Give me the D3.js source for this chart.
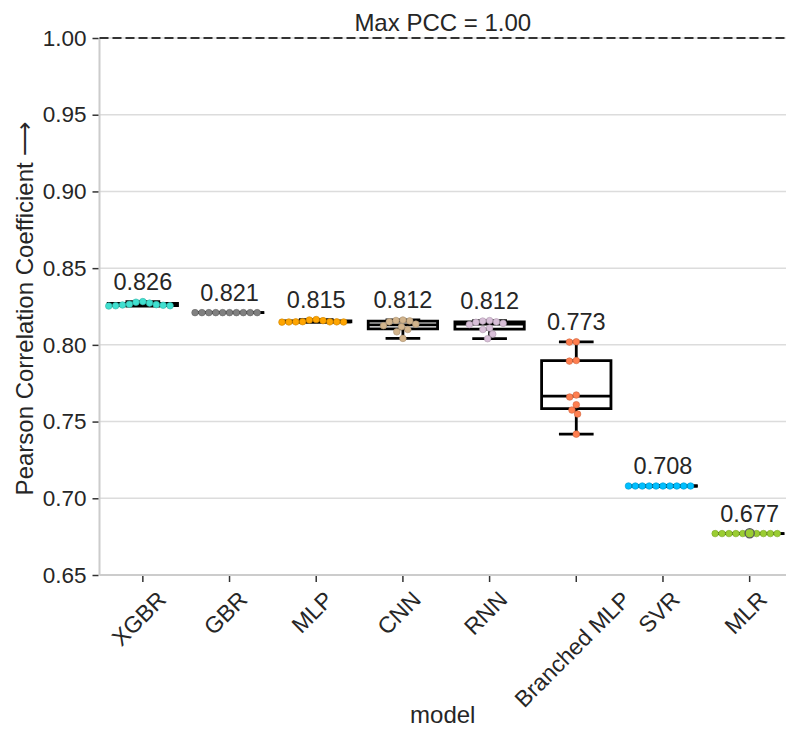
<!DOCTYPE html>
<html>
<head>
<meta charset="utf-8">
<script src="https://cdn.jsdelivr.net/npm/d3@7"></script>
<style>
  body { margin: 0; background: #fff; }
  text { font-family: "Liberation Sans", Arial, sans-serif; fill: #262626; }
</style>
</head>
<body>
<div id="container"></div>
<script>
const models = ["XGBR", "GBR", "MLP", "CNN", "RNN", "Branched MLP", "SVR", "MLR"];
const colors = ["#40e0d0", "#808080", "#ffa500", "#d2b48c", "#d8bfd8", "#ff7f50", "#00bfff", "#9acd32"];

// PCC per run (10 runs per model)
const xgbrValues     = [0.8282, 0.8278, 0.8272, 0.8265, 0.8258, 0.8255, 0.8253, 0.8255, 0.8260, 0.8262];
const gbrValues      = [0.8210, 0.8210, 0.8210, 0.8210, 0.8210, 0.8210, 0.8210, 0.8210, 0.8210, 0.8210];
const mlpValues      = [0.8165, 0.8162, 0.8150, 0.8149, 0.8148, 0.8150, 0.8151, 0.8149, 0.8150, 0.8158];
const cnnValues      = [0.8162, 0.8159, 0.8156, 0.8150, 0.8135, 0.8125, 0.8118, 0.8100, 0.8085, 0.8042];
const rnnValues      = [0.8158, 0.8155, 0.8150, 0.8147, 0.8140, 0.8132, 0.8110, 0.8100, 0.8070, 0.8040];
const branchedValues = [0.8020, 0.8018, 0.7898, 0.7894, 0.7673, 0.7660, 0.7610, 0.7575, 0.7549, 0.7418];
const svrValues      = [0.7080, 0.7080, 0.7080, 0.7080, 0.7080, 0.7080, 0.7080, 0.7080, 0.7080, 0.7080];
const mlrValues      = [0.6770, 0.6770, 0.6770, 0.6770, 0.6772, 0.6770, 0.6770, 0.6770, 0.6770, 0.6770];

const yTicks = [0.65, 0.70, 0.75, 0.80, 0.85, 0.90, 0.95, 1.00];
const maxPcc = 1.00;

const width  = 786;
const height = 733;
const plot   = { left: 99.5, right: 793, top: 38, bottom: 575 };

const series = models.map((m, i) => ({
  model: m,
  color: colors[i],
  values: [xgbrValues, gbrValues, mlpValues, cnnValues, rnnValues, branchedValues, svrValues, mlrValues][i]
}));

const svg = d3.select("#container")
  .append("svg")
    .attr("width", width)
    .attr("height", height);

const x = d3.scaleBand()
  .domain(models)
  .range([plot.left, plot.right]);

const y = d3.scaleLinear()
  .domain([0.65, 1.00])
  .range([plot.bottom, plot.top]);

// grid
svg.append("g")
  .selectAll("line")
  .data(yTicks)
  .join("line")
    .attr("x1", plot.left)
    .attr("x2", width)
    .attr("y1", d => y(d))
    .attr("y2", d => y(d))
    .attr("stroke", "#dcdcdc")
    .attr("stroke-width", 1.5);

// spines
svg.append("line")
  .attr("x1", plot.left).attr("x2", plot.left)
  .attr("y1", plot.top).attr("y2", plot.bottom)
  .attr("stroke", "#cccccc").attr("stroke-width", 2);
svg.append("line")
  .attr("x1", plot.left).attr("x2", width)
  .attr("y1", plot.bottom).attr("y2", plot.bottom)
  .attr("stroke", "#cccccc").attr("stroke-width", 2);

// y axis
const yAxis = svg.append("g")
  .attr("transform", `translate(${plot.left - 1},0)`)
  .call(d3.axisLeft(y).tickValues(yTicks).tickFormat(d3.format(".2f")).tickSize(6).tickPadding(6));
yAxis.select(".domain").remove();
yAxis.selectAll(".tick line").attr("stroke", "#333").attr("stroke-width", 1.5);
yAxis.selectAll(".tick text").attr("font-size", 22.5).attr("font-family", null);

// x axis
const xAxis = svg.append("g")
  .attr("transform", `translate(0,${plot.bottom + 1})`)
  .call(d3.axisBottom(x).tickSize(6).tickFormat(""));
xAxis.select(".domain").remove();
xAxis.selectAll(".tick line").attr("stroke", "#333").attr("stroke-width", 1.5);

// rotated tick labels, centred under the tick like matplotlib
const labelTop = plot.bottom + 13;
svg.append("g")
  .selectAll("text")
  .data(models)
  .join("text")
    .attr("font-size", 23)
    .attr("text-anchor", "middle")
    .attr("dominant-baseline", "central")
    .text(d => d)
    .each(function(d) {
      const w = this.getComputedTextLength();
      const h = 21;
      const cx = x(d) + x.bandwidth() / 2 - 4;
      const cy = labelTop + (w + h) / (2 * Math.SQRT2);
      d3.select(this).attr("transform", `translate(${cx},${cy}) rotate(-45)`);
    });

// max line
svg.append("line")
  .attr("x1", plot.left).attr("x2", width)
  .attr("y1", y(maxPcc)).attr("y2", y(maxPcc))
  .attr("stroke", "#333").attr("stroke-width", 2)
  .attr("stroke-dasharray", "9,4");

svg.append("text")
  .attr("x", (plot.left + width) / 2)
  .attr("y", 31)
  .attr("text-anchor", "middle")
  .attr("font-size", 24)
  .text(`Max PCC = ${maxPcc.toFixed(2)}`);

// box plots
const boxW = x.bandwidth() * 0.8;
const boxes = svg.append("g");

series.forEach(s => {
  const v  = s.values.slice().sort(d3.ascending);
  const q1 = d3.quantile(v, 0.25);
  const q2 = d3.quantile(v, 0.5);
  const q3 = d3.quantile(v, 0.75);
  const iqr = q3 - q1;
  const lo = d3.min(v.filter(d => d >= q1 - 1.5 * iqr));
  const hi = d3.max(v.filter(d => d <= q3 + 1.5 * iqr));
  const cx = x(s.model) + x.bandwidth() / 2;
  s.cx = cx; s.hi = hi;
  s.fliers = v.filter(d => d < lo || d > hi);

  const g = boxes.append("g")
    .attr("stroke", "#000")
    .attr("stroke-width", 2.8)
    .attr("fill", "none");

  g.append("line").attr("x1", cx).attr("x2", cx).attr("y1", y(q1)).attr("y2", y(lo));
  g.append("line").attr("x1", cx).attr("x2", cx).attr("y1", y(q3)).attr("y2", y(hi));
  g.append("line").attr("x1", cx - boxW / 4).attr("x2", cx + boxW / 4).attr("y1", y(lo)).attr("y2", y(lo));
  g.append("line").attr("x1", cx - boxW / 4).attr("x2", cx + boxW / 4).attr("y1", y(hi)).attr("y2", y(hi));
  g.append("path")
    .attr("fill", "#fff")
    .attr("d", `M${cx - boxW / 2},${y(q3)}H${cx + boxW / 2}V${y(q1)}H${cx - boxW / 2}Z`);
  g.append("line").attr("x1", cx - boxW / 2).attr("x2", cx + boxW / 2).attr("y1", y(q2)).attr("y2", y(q2));
});

// swarm layout (closest free offset to the centre)
const r = 3.3;
function swarm(values) {
  const dmin = 2 * r + 0.3;
  const pts = values.map(v => ({ v, py: y(v) })).sort((a, b) => a.py - b.py);
  const placed = [];
  pts.forEach(p => {
    const cands = [0];
    placed.forEach(q => {
      const dy = p.py - q.py;
      if (Math.abs(dy) < dmin) {
        const dx = Math.sqrt(dmin * dmin - dy * dy);
        cands.push(q.dx - dx, q.dx + dx);
      }
    });
    cands.sort((a, b) => Math.abs(a) - Math.abs(b));
    p.dx = cands.find(c => placed.every(q => (q.dx - c) ** 2 + (q.py - p.py) ** 2 >= dmin * dmin - 1e-6));
    placed.push(p);
  });
  return placed;
}

const dots = svg.append("g");
series.forEach(s => {
  dots.append("g")
    .selectAll("circle")
    .data(swarm(s.values))
    .join("circle")
      .attr("cx", d => s.cx + d.dx)
      .attr("cy", d => d.py)
      .attr("r", r)
      .attr("fill", s.color)
      .attr("stroke", d3.color(s.color).darker(0.6))
      .attr("stroke-width", 0.6);

  dots.append("g")
    .selectAll("circle")
    .data(s.fliers)
    .join("circle")
      .attr("cx", s.cx)
      .attr("cy", d => y(d))
      .attr("r", 4.6)
      .attr("fill", s.color)
      .attr("stroke", "#555")
      .attr("stroke-width", 1.3);
});

// mean labels
svg.append("g")
  .selectAll("text")
  .data(series)
  .join("text")
    .attr("x", d => d.cx)
    .attr("y", d => y(d.hi) - 12)
    .attr("text-anchor", "middle")
    .attr("font-size", 23.5)
    .text(d => d3.format(".3f")(d3.mean(d.values)));

// axis titles
svg.append("text")
  .attr("transform", `translate(33,${(plot.top + plot.bottom) / 2 + 2}) rotate(-90)`)
  .attr("text-anchor", "middle")
  .attr("font-size", 24)
  .text("Pearson Correlation Coefficient \u27f6");

svg.append("text")
  .attr("x", (plot.left + width) / 2)
  .attr("y", 723)
  .attr("text-anchor", "middle")
  .attr("font-size", 24)
  .text("model");
</script>
</body>
</html>
